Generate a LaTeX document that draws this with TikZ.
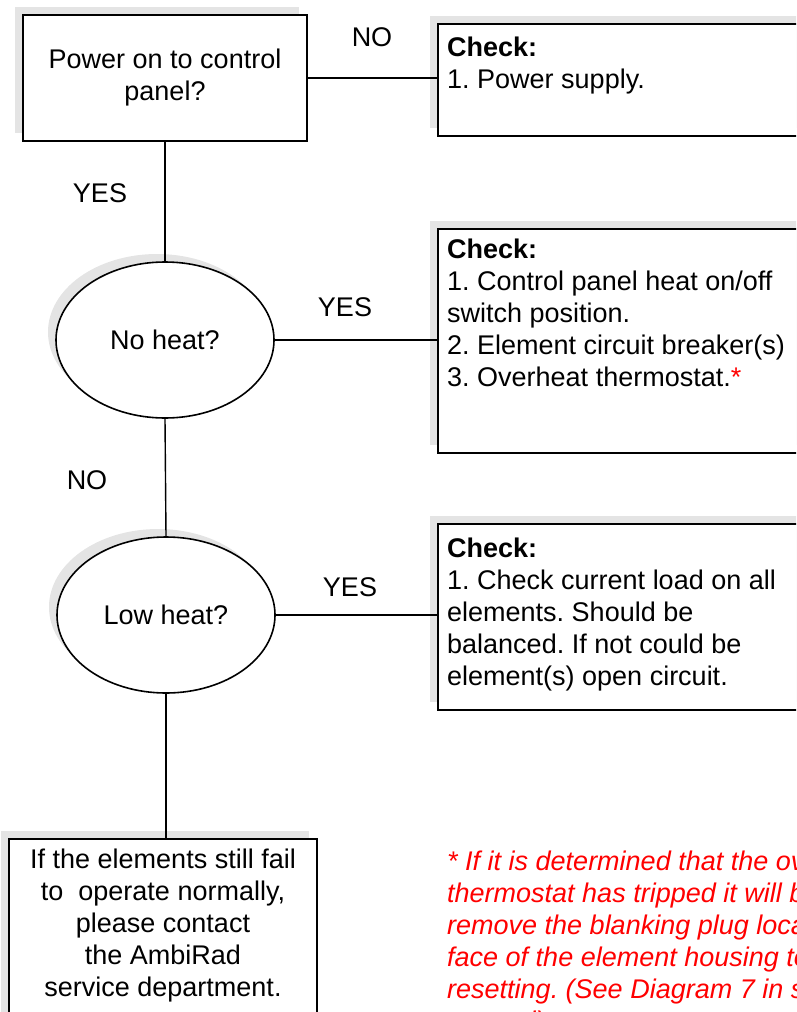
\documentclass[tikz,border=0pt]{standalone}
\usepackage{fontspec}
\setmainfont{Liberation Sans}
\usetikzlibrary{shapes.geometric,shadows}
\definecolor{shadowgray}{RGB}{228,228,228}
\newcommand\mainfs{\fontsize{27pt}{32pt}\selectfont\frenchspacing}
\begin{document}
\begin{tikzpicture}[x=1pt,y=-1pt,
  shd/.style={drop shadow={shadow xshift=-8pt,shadow yshift=8pt,opacity=1,fill=shadowgray,draw=none}},
  box/.style={draw=black,line width=1.6pt,fill=white,rectangle,inner sep=0pt,shd},
  oval/.style={draw=black,line width=1.6pt,fill=white,ellipse,inner sep=0pt,
    minimum width=218pt,minimum height=156pt,shd,font=\mainfs},
  txt/.style={inner sep=0pt,font=\mainfs},
  lbl/.style={inner sep=0pt,font=\mainfs},
  note/.style={inner sep=0pt,font=\mainfs\itshape,text=red,align=left},
  link/.style={line width=1.4pt}]
\useasboundingbox (0,0) rectangle (796,1012);
\clip (0,0) rectangle (796,1012);

% decision nodes
\node[box,minimum width=284pt,minimum height=126pt,align=center,font=\mainfs] (q1) at (165,78) {Power on to control\\panel?};
\node[oval] (q2) at (165,340) {No heat?};
\node[oval] (q3) at (166,615) {Low heat?};

% check boxes
\node[box,anchor=north west,minimum width=380pt,minimum height=112pt] (c1) at (437,23) {};
\node[box,anchor=north west,minimum width=380pt,minimum height=224pt] (c2) at (437,228) {};
\node[box,anchor=north west,minimum width=380pt,minimum height=186pt] (c3) at (437,523) {};
\node[box,anchor=north west,minimum width=308pt,minimum height=220pt] (end) at (8,838) {};

% texts in boxes
\node[txt,anchor=north west,align=left] (t1) at (447,37) {\textbf{Check:}\\1. Power supply.};
\node[txt,anchor=north west,align=left] (t2) at (447,239) {\textbf{Check:}\\1. Control panel heat on/off\\switch position.\\2. Element circuit breaker(s)\\3. Overheat thermostat.{\color{red}*}};
\node[txt,anchor=north west,align=left] (t3) at (447,538) {\textbf{Check:}\\1. Check current load on all\\elements. Should be\\balanced. If not could be\\element(s) open circuit.};
\node[txt,align=center] (t4) at (163,926) {If the elements still fail\\to\ \ operate normally,\\please contact\\the AmbiRad\\service department.};

% connectors
\draw[link] (q1.east) -- (q1.east -| c1.west);
\draw[link] (q2.east) -- (q2.east -| c2.west);
\draw[link] (q3.east) -- (q3.east -| c3.west);
\draw[link] (q1.south) -- (q2.north);
\draw[link] (q2.south) -- (q3.north);
\draw[link] (q3.south) -- (q3.south |- end.north);

% labels
\node[lbl] (l1) at (372,37) {NO};
\node[lbl] (l2) at (100,193) {YES};
\node[lbl] (l3) at (345,307) {YES};
\node[lbl] (l4) at (87,480) {NO};
\node[lbl] (l5) at (350,587) {YES};

% footnote
\node[note,anchor=north west] (n1) at (447,851) {* If it is determined that the overheat\\thermostat has tripped it will be\\remove the blanking plug located\\face of the element housing to\\resetting. (See Diagram 7 in section\\manual).};
\end{tikzpicture}
\end{document}
